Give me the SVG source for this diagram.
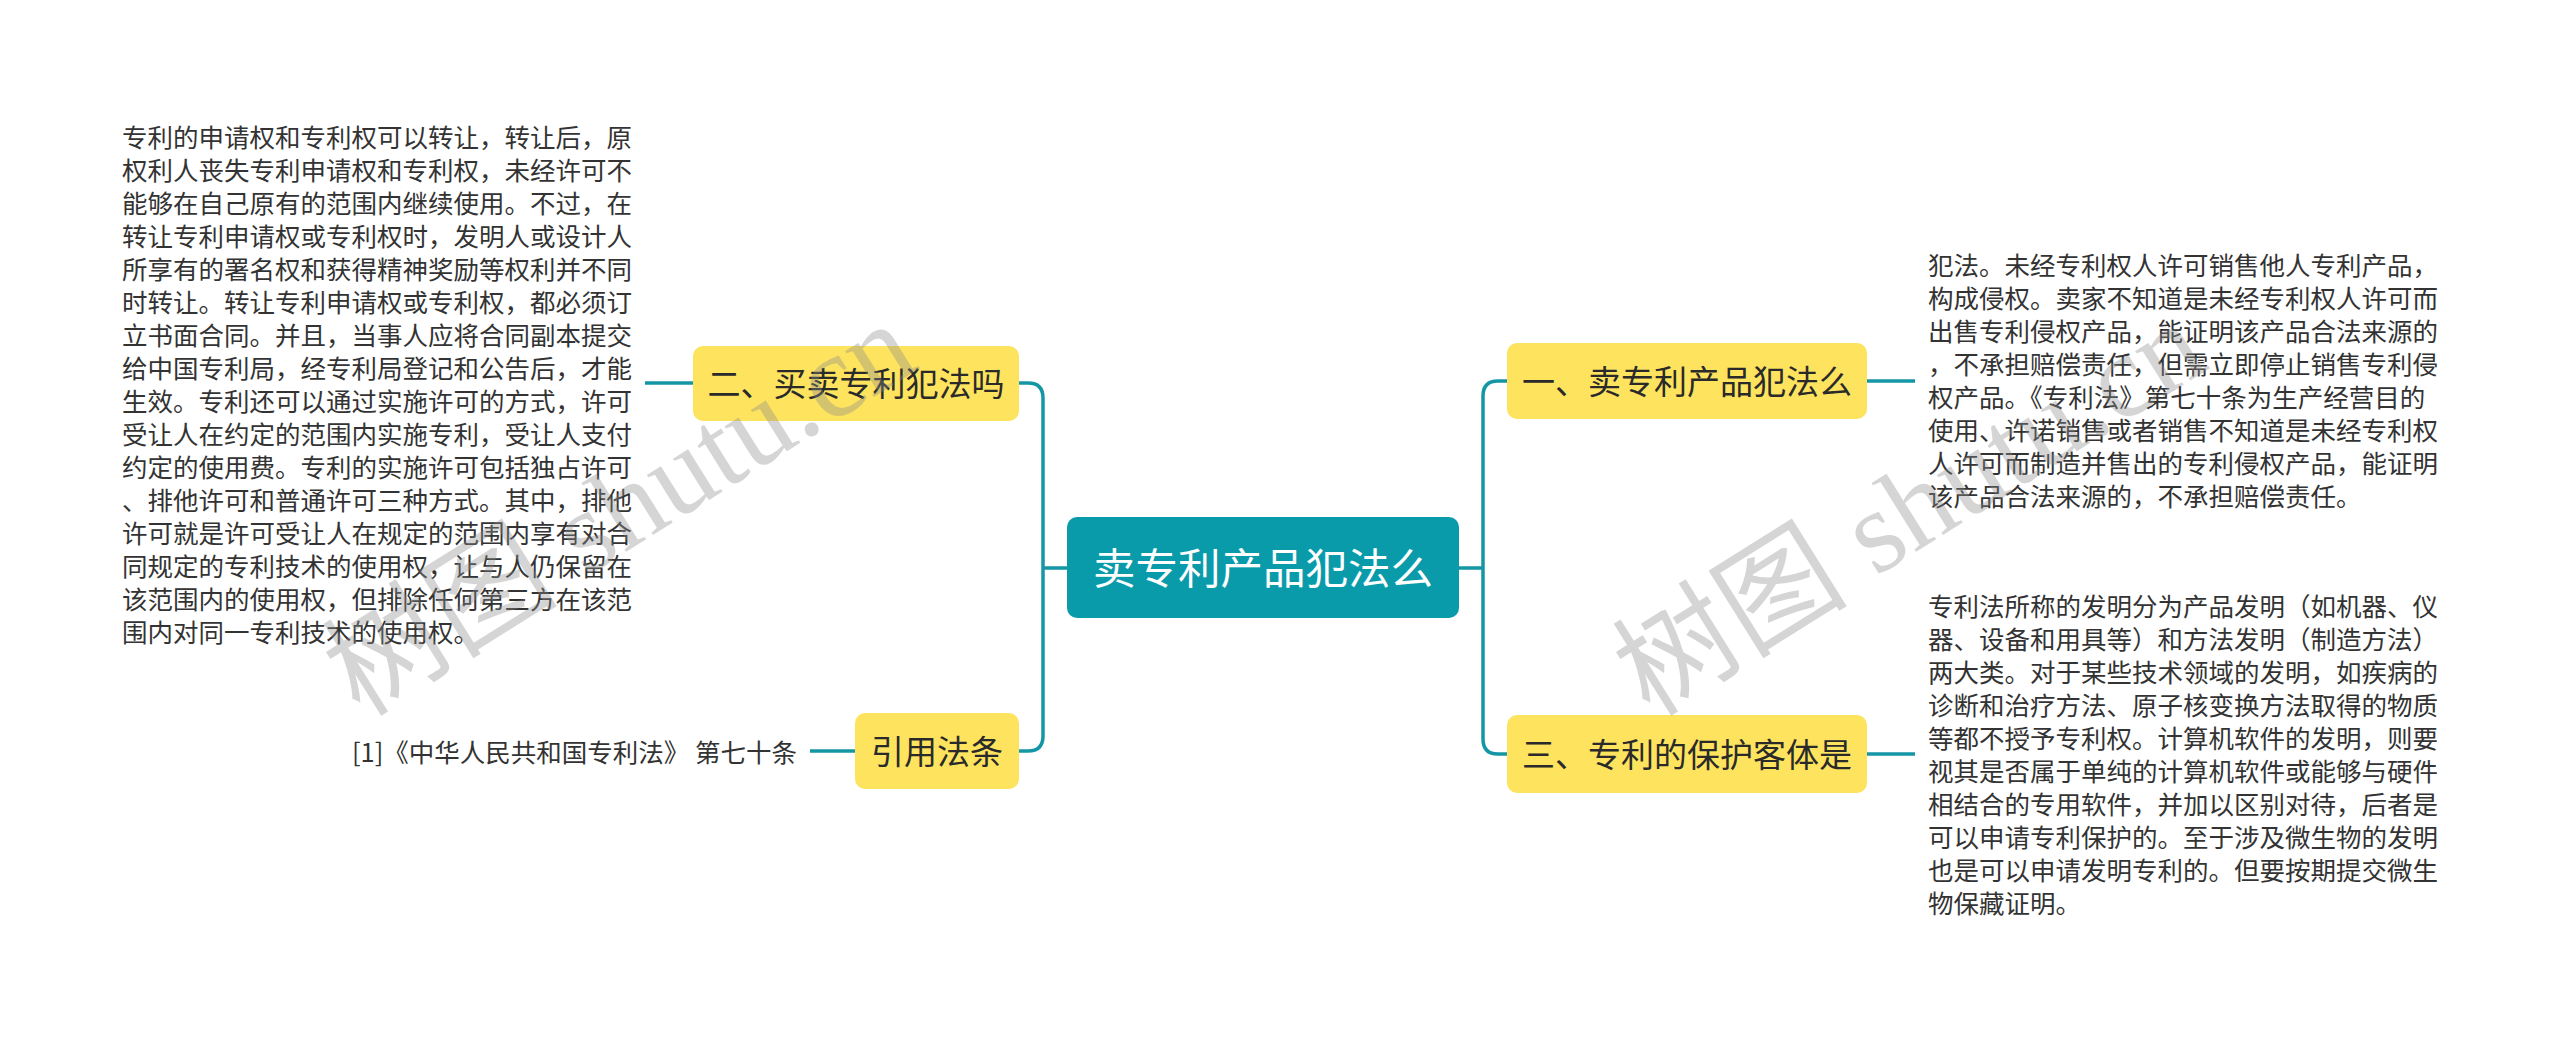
<svg xmlns="http://www.w3.org/2000/svg" width="2560" height="1041" viewBox="0 0 2560 1041">
<style>
.t{font-family:"Noto Sans CJK SC","Noto Sans",sans-serif;fill:#333333}
.leaf{font-size:25.5px}
.sub{fill:#fde35e}
.subt{font-size:33px;fill:#2a2a2a;text-anchor:middle}
.ln{fill:none;stroke:#1496a5;stroke-width:3.5}
.wm{font-family:"Liberation Serif","Noto Sans CJK SC",serif;font-size:118px;fill:#8c8c8c;opacity:0.36}
</style>
<rect width="2560" height="1041" fill="#ffffff"/>
<g id="connectors">
<path class="ln" d="M1067,568 H1043"/>
<path class="ln" d="M1019,383 H1028 Q1043,383 1043,398 V736 Q1043,751 1028,751 H1019"/>
<path class="ln" d="M1459,568 H1483"/>
<path class="ln" d="M1507,381 H1498 Q1483,381 1483,396 V739 Q1483,754 1498,754 H1507"/>
<path class="ln" d="M693,383 H645"/>
<path class="ln" d="M855,751 H810"/>
<path class="ln" d="M1867,381 H1915"/>
<path class="ln" d="M1867,754 H1915"/>
</g>
<g id="root">
<rect x="1067" y="517" width="392" height="101" rx="10" fill="#0a9bab"/>
<text x="1263" y="584" class="t" style="font-size:42.5px;fill:#ffffff;text-anchor:middle">卖专利产品犯法么</text>
</g>
<g id="node-left1">
<rect class="sub" x="693" y="346" width="326" height="75" rx="10"/>
<text class="t subt" x="856" y="395.5">二、买卖专利犯法吗</text>
</g>
<g id="node-left2">
<rect class="sub" x="855" y="713" width="164" height="76" rx="10"/>
<text class="t subt" x="937" y="763.5">引用法条</text>
</g>
<g id="node-right1">
<rect class="sub" x="1507" y="343" width="360" height="76" rx="10"/>
<text class="t subt" x="1687" y="393.5">一、卖专利产品犯法么</text>
</g>
<g id="node-right2">
<rect class="sub" x="1507" y="715" width="360" height="78" rx="10"/>
<text class="t subt" x="1687" y="766.5">三、专利的保护客体是</text>
</g>
<g id="leaf-left1">
<text class="t leaf" x="122" y="146.5">
<tspan x="122">专利的申请权和专利权可以转让，转让后，原</tspan>
<tspan x="122" dy="33">权利人丧失专利申请权和专利权，未经许可不</tspan>
<tspan x="122" dy="33">能够在自己原有的范围内继续使用。不过，在</tspan>
<tspan x="122" dy="33">转让专利申请权或专利权时，发明人或设计人</tspan>
<tspan x="122" dy="33">所享有的署名权和获得精神奖励等权利并不同</tspan>
<tspan x="122" dy="33">时转让。转让专利申请权或专利权，都必须订</tspan>
<tspan x="122" dy="33">立书面合同。并且，当事人应将合同副本提交</tspan>
<tspan x="122" dy="33">给中国专利局，经专利局登记和公告后，才能</tspan>
<tspan x="122" dy="33">生效。专利还可以通过实施许可的方式，许可</tspan>
<tspan x="122" dy="33">受让人在约定的范围内实施专利，受让人支付</tspan>
<tspan x="122" dy="33">约定的使用费。专利的实施许可包括独占许可</tspan>
<tspan x="122" dy="33">、排他许可和普通许可三种方式。其中，排他</tspan>
<tspan x="122" dy="33">许可就是许可受让人在规定的范围内享有对合</tspan>
<tspan x="122" dy="33">同规定的专利技术的使用权，让与人仍保留在</tspan>
<tspan x="122" dy="33">该范围内的使用权，但排除任何第三方在该范</tspan>
<tspan x="122" dy="33">围内对同一专利技术的使用权。</tspan>
</text>
</g>
<g id="leaf-left2">
<text class="t leaf" x="797" y="762" text-anchor="end">[1]《中华人民共和国专利法》 第七十条</text>
</g>
<g id="leaf-right1">
<text class="t leaf" x="1928" y="274.5">
<tspan x="1928">犯法。未经专利权人许可销售他人专利产品，</tspan>
<tspan x="1928" dy="33">构成侵权。卖家不知道是未经专利权人许可而</tspan>
<tspan x="1928" dy="33">出售专利侵权产品，能证明该产品合法来源的</tspan>
<tspan x="1928" dy="33">，不承担赔偿责任，但需立即停止销售专利侵</tspan>
<tspan x="1928" dy="33">权产品。《专利法》第七十条为生产经营目的</tspan>
<tspan x="1928" dy="33">使用、许诺销售或者销售不知道是未经专利权</tspan>
<tspan x="1928" dy="33">人许可而制造并售出的专利侵权产品，能证明</tspan>
<tspan x="1928" dy="33">该产品合法来源的，不承担赔偿责任。</tspan>
</text>
</g>
<g id="leaf-right2">
<text class="t leaf" x="1928" y="615.5">
<tspan x="1928">专利法所称的发明分为产品发明（如机器、仪</tspan>
<tspan x="1928" dy="33">器、设备和用具等）和方法发明（制造方法）</tspan>
<tspan x="1928" dy="33">两大类。对于某些技术领域的发明，如疾病的</tspan>
<tspan x="1928" dy="33">诊断和治疗方法、原子核变换方法取得的物质</tspan>
<tspan x="1928" dy="33">等都不授予专利权。计算机软件的发明，则要</tspan>
<tspan x="1928" dy="33">视其是否属于单纯的计算机软件或能够与硬件</tspan>
<tspan x="1928" dy="33">相结合的专用软件，并加以区别对待，后者是</tspan>
<tspan x="1928" dy="33">可以申请专利保护的。至于涉及微生物的发明</tspan>
<tspan x="1928" dy="33">也是可以申请发明专利的。但要按期提交微生</tspan>
<tspan x="1928" dy="33">物保藏证明。</tspan>
</text>
</g>
<g id="watermarks">
<text class="wm" transform="translate(360,718) rotate(-32)">树图 shutu.cn</text>
<text class="wm" transform="translate(1650,718) rotate(-32)">树图 shutu.cn</text>
</g>
</svg>
